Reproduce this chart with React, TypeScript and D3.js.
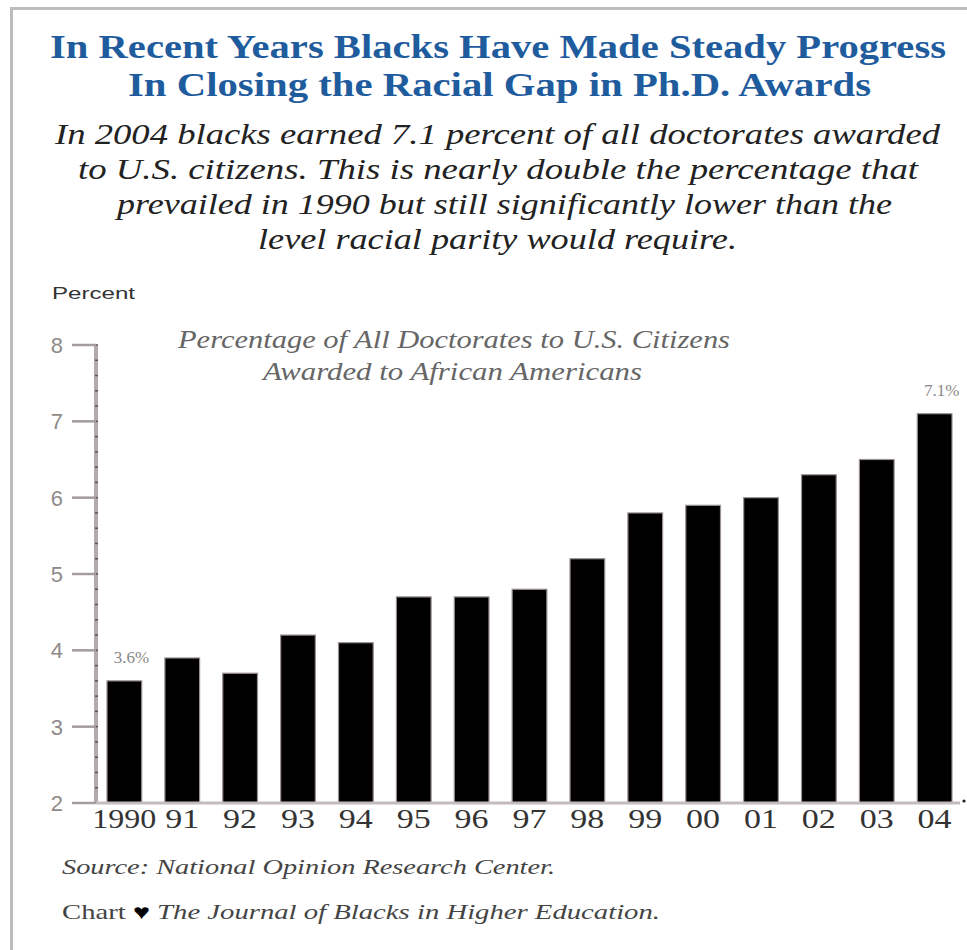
import React from "react";
import * as d3 from "d3";

const years = ["1990", "91", "92", "93", "94", "95", "96", "97", "98", "99", "00", "01", "02", "03", "04"];
const percents = [3.6, 3.9, 3.7, 4.2, 4.1, 4.7, 4.7, 4.8, 5.2, 5.8, 5.9, 6.0, 6.3, 6.5, 7.1];
const yTicks = [2, 3, 4, 5, 6, 7, 8];
const valueLabels = [
  { year: "1990", text: "3.6%" },
  { year: "04", text: "7.1%" },
];
const titleLines = [
  "In Recent Years Blacks Have Made Steady Progress",
  "In Closing the Racial Gap in Ph.D. Awards",
];
const subtitleLines = [
  "In 2004 blacks earned 7.1 percent of all doctorates awarded",
  "to U.S. citizens. This is nearly double the percentage that",
  "prevailed in 1990 but still significantly lower than the",
  "level racial parity would require.",
];
const innerTitleLines = [
  "Percentage of All Doctorates to U.S. Citizens",
  "Awarded to African Americans",
];
const sourceText = "Source: National Opinion Research Center.";
const creditLead = "Chart ";
const creditBody = " The Journal of Blacks in Higher Education.";

const SERIF = "'Times New Roman', Times, 'Liberation Serif', serif";
const SANS = "Arial, Helvetica, 'Liberation Sans', sans-serif";

export default function App() {
  const W = 967;
  const H = 950;
  const axisX = 96;
  const x = d3
    .scaleBand<string>()
    .domain(years)
    .range([axisX, 963])
    .paddingInner(0.4)
    .paddingOuter(0.19);
  const y = d3.scaleLinear().domain([2, 8]).range([803, 345]);
  const minor = d3.range(2, 8.001, 0.2);

  const titleW = [896, 743];
  const titleY = [58, 96];
  const subW = [885, 840, 775, 479];
  const subY = [144, 179, 214, 249];
  const innerW = [552, 379];
  const innerY = [348, 380];
  const cx = (a: number, b: number) => (a + b) / 2;
  const titleCx = [cx(50, 946), cx(128, 871)];
  const subCx = [cx(55, 940), cx(78, 918), cx(117, 892), cx(258, 737)];
  const innerCx = [cx(178, 730), cx(263, 642)];

  return (
    <svg
      width={W}
      height={H}
      style={{ position: "absolute", left: 0, top: 0, background: "#fff" }}
    >
      {/* frame */}
      <line x1={10} x2={W} y1={8.5} y2={8.5} stroke="#bdbdbd" strokeWidth={3} />
      <line x1={11.5} x2={11.5} y1={7} y2={H} stroke="#bdbdbd" strokeWidth={3} />

      {/* title */}
      {titleLines.map((t, i) => (
        <text
          key={t}
          x={titleCx[i]}
          y={titleY[i]}
          textAnchor="middle"
          fontFamily={SERIF}
          fontWeight="bold"
          fontSize={33}
          fill="#1f5c9e"
          textLength={titleW[i]}
          lengthAdjust="spacingAndGlyphs"
        >
          {t}
        </text>
      ))}

      {/* subtitle */}
      {subtitleLines.map((t, i) => (
        <text
          key={t}
          x={subCx[i]}
          y={subY[i]}
          textAnchor="middle"
          fontFamily={SERIF}
          fontStyle="italic"
          fontSize={30}
          fill="#222"
          textLength={subW[i]}
          lengthAdjust="spacingAndGlyphs"
        >
          {t}
        </text>
      ))}

      {/* y-axis label */}
      <text
        x={52}
        y={299}
        fontFamily={SANS}
        fontSize={17}
        fill="#333"
        textLength={83}
        lengthAdjust="spacingAndGlyphs"
      >
        Percent
      </text>

      {/* inner title */}
      {innerTitleLines.map((t, i) => (
        <text
          key={t}
          x={innerCx[i]}
          y={innerY[i]}
          textAnchor="middle"
          fontFamily={SERIF}
          fontStyle="italic"
          fontSize={25}
          fill="#666"
          textLength={innerW[i]}
          lengthAdjust="spacingAndGlyphs"
        >
          {t}
        </text>
      ))}

      {/* bars */}
      {years.map((yr, i) => (
        <rect
          key={yr}
          x={x(yr)!}
          y={y(percents[i])}
          width={x.bandwidth()}
          height={y(2) - y(percents[i])}
          fill="#000"
          stroke="#9a9090"
          strokeWidth={1.2}
        />
      ))}

      {/* y axis */}
      <line x1={axisX} x2={axisX} y1={y(8)} y2={y(2)} stroke="#b3abab" strokeWidth={4} />
      {minor.map((v) => (
        <line
          key={"m" + v.toFixed(1)}
          x1={axisX - 1}
          x2={axisX + 2}
          y1={y(v)}
          y2={y(v)}
          stroke="#555"
          strokeWidth={1.5}
        />
      ))}
      {yTicks.map((t) => (
        <g key={t}>
          <line x1={72} x2={axisX} y1={y(t)} y2={y(t)} stroke="#a49c9c" strokeWidth={2.5} />
          <text
            x={63}
            y={y(t) + 8}
            textAnchor="end"
            fontFamily={SANS}
            fontSize={22}
            fill="#8f8a8a"
          >
            {t}
          </text>
        </g>
      ))}

      {/* x axis */}
      <line x1={axisX} x2={960} y1={y(2)} y2={y(2)} stroke="#c4bcbc" strokeWidth={3} />
      <circle cx={964} cy={y(2) - 2} r={1.6} fill="#222" />
      {years.map((yr) => (
        <text
          key={"l" + yr}
          x={x(yr)! + x.bandwidth() / 2}
          y={828}
          textAnchor="middle"
          fontFamily={SERIF}
          fontSize={28}
          fill="#333"
          textLength={yr.length === 4 ? 64 : 34}
          lengthAdjust="spacingAndGlyphs"
        >
          {yr}
        </text>
      ))}

      {/* value labels */}
      {valueLabels.map((d) => {
        const i = years.indexOf(d.year);
        return (
          <text
            key={d.text}
            x={x(d.year)! + x.bandwidth() / 2 + 7}
            y={y(percents[i]) - 18}
            textAnchor="middle"
            fontFamily={SERIF}
            fontSize={17}
            fill="#888"
          >
            {d.text}
          </text>
        );
      })}

      {/* source */}
      <text
        x={62}
        y={874}
        fontFamily={SERIF}
        fontStyle="italic"
        fontSize={21}
        fill="#444"
        textLength={493}
        lengthAdjust="spacingAndGlyphs"
      >
        {sourceText}
      </text>
      <text
        x={62}
        y={919}
        fontFamily={SERIF}
        fontSize={21}
        fill="#444"
        textLength={598}
        lengthAdjust="spacingAndGlyphs"
      >
        <tspan>{creditLead}</tspan>
        <tspan fill="#000">♥</tspan>
        <tspan fontStyle="italic">{creditBody}</tspan>
      </text>
    </svg>
  );
}
